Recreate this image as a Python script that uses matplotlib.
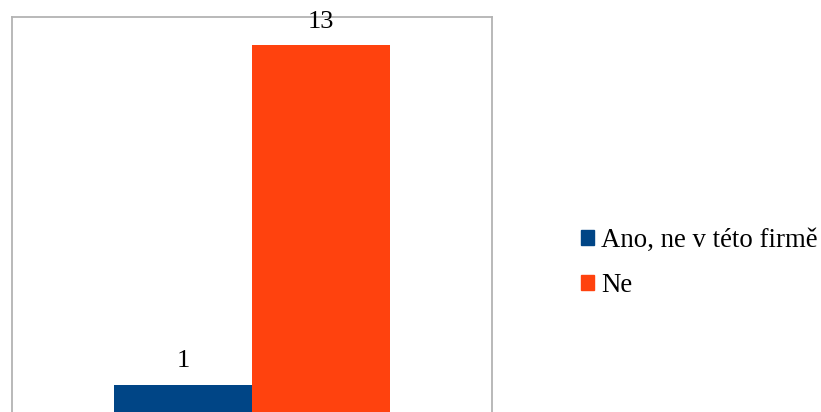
import matplotlib.pyplot as plt
from matplotlib.patches import Patch

categories = ['Ano, ne v této firmě', 'Ne']
values = [1, 13]
colors = ['#004586', '#FF420E']

plt.rcParams['font.family'] = ['Liberation Serif', 'DejaVu Serif']

fig = plt.figure(figsize=(8.21, 4.12), dpi=100)
# axes box spans x 12..492 px, y 17..413 px
ax = fig.add_axes([12 / 821, -1.3 / 412, 480 / 821, 396.3 / 412])

width = 0.2875
offsets = [-width / 2, width / 2]
for off, v, c in zip(offsets, values, colors):
    ax.bar(off, v, width=width, color=c)
    ax.annotate(str(v), (off, v), xytext=(0, 9), textcoords='offset points',
                ha='center', va='bottom', fontsize=19)

ax.set_xlim(-0.5, 0.5)
ax.set_ylim(0, 14)
ax.set_xticks([])
ax.set_yticks([])
for s in ax.spines.values():
    s.set_color('#B3B3B3')
    s.set_linewidth(1.3)
ax.spines['bottom'].set_visible(False)

handles = [Patch(color=c) for c in colors]
fig.legend(handles, categories, loc='center left',
           bbox_to_anchor=(581 / 821, 1 - 263 / 412), frameon=False,
           fontsize=19.3, handlelength=0.5, handleheight=0.5,
           handletextpad=0.25, labelspacing=0.75, borderaxespad=0,
           borderpad=0)

fig.savefig('out.png', dpi=100)
